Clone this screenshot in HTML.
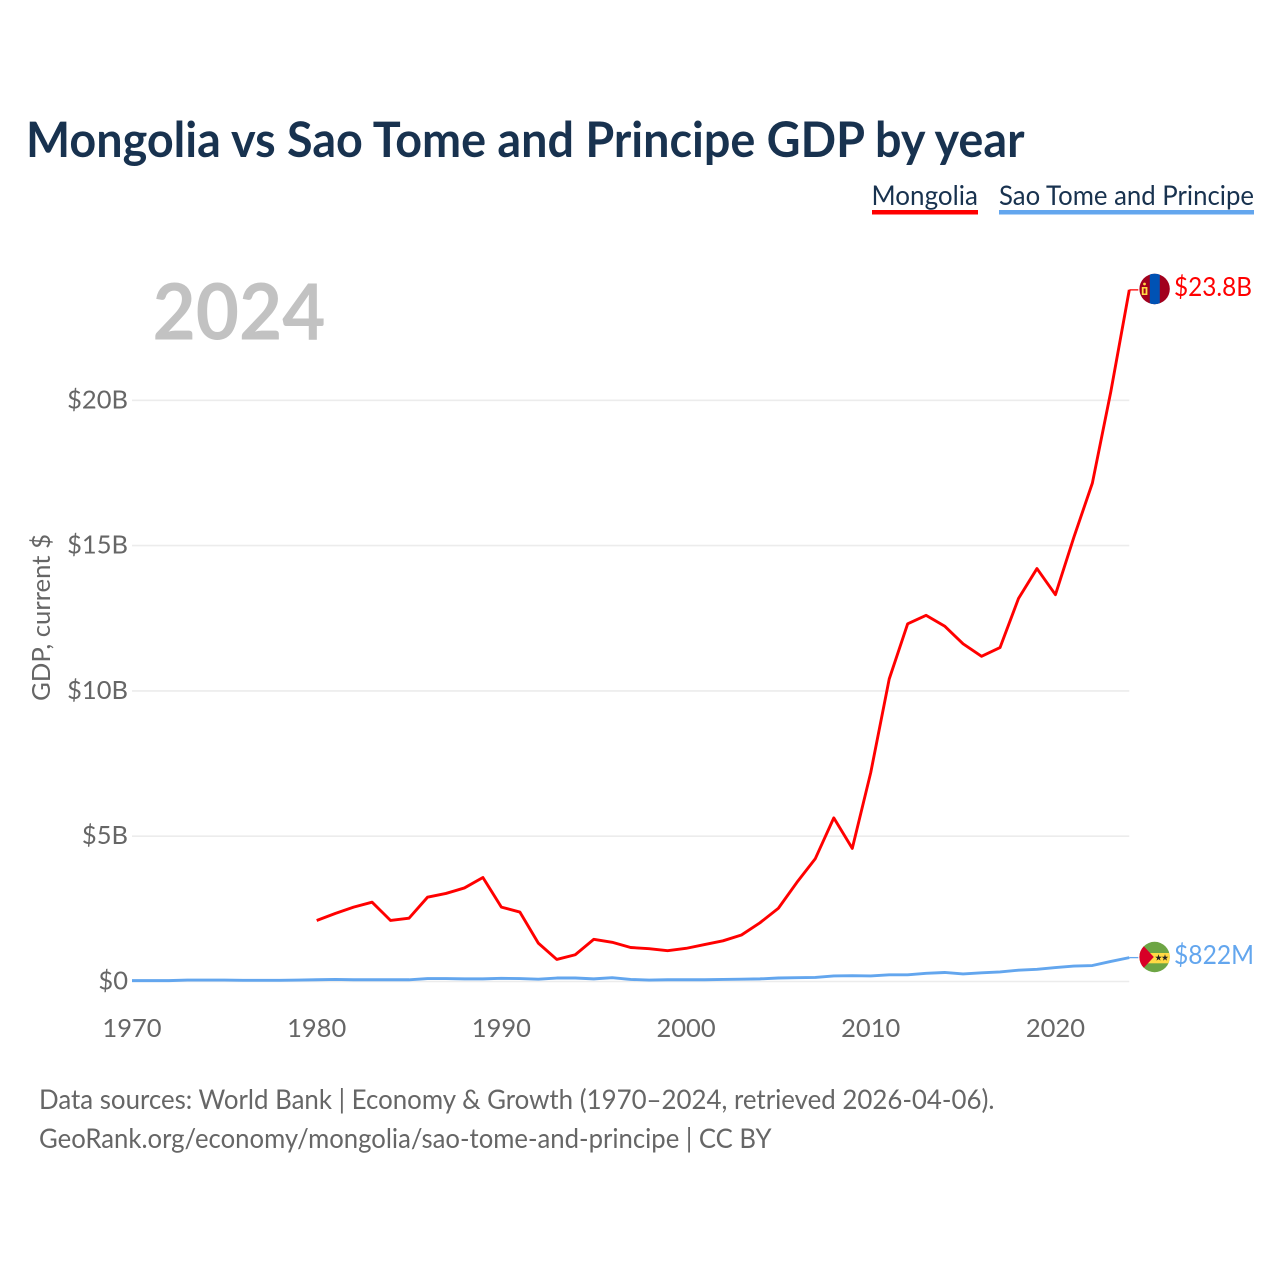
<!DOCTYPE html>
<html lang="en">
<head>
<meta charset="utf-8">
<title>Mongolia vs Sao Tome and Principe GDP by year</title>
<style>
html,body{margin:0;padding:0;background:#fff;width:1280px;height:1280px;overflow:hidden}
svg{display:block}
text{font-family:"Lato","Carlito","Liberation Sans",sans-serif}
</style>
</head>
<body>
<svg id="chart" xmlns="http://www.w3.org/2000/svg" width="1280" height="1280" viewBox="0 0 1280 1280">
  <defs>
    <clipPath id="clip-mn"><circle cx="1154.6" cy="289" r="15.2"/></clipPath>
    <clipPath id="clip-st"><circle cx="1154.6" cy="957" r="15.2"/></clipPath>
  </defs>
  <rect width="1280" height="1280" fill="#fff"/>
  <text x="26" y="157" font-size="48.5" font-weight="700" fill="#18324f" textLength="998.5" lengthAdjust="spacingAndGlyphs">Mongolia vs Sao Tome and Principe GDP by year</text>

  <g>
    <text x="871.5" y="205" font-size="27.5" fill="#18324f" textLength="106.5" lengthAdjust="spacingAndGlyphs">Mongolia</text>
    <rect x="872" y="210" width="106" height="4.5" fill="#ff0000"/>
  </g>
  <g>
    <text x="999" y="205" font-size="27.5" fill="#18324f" textLength="255" lengthAdjust="spacingAndGlyphs">Sao Tome and Principe</text>
    <rect x="999" y="210" width="255" height="4.5" fill="#63a6ee"/>
  </g>

  <text x="152.5" y="339.5" font-size="78" font-weight="700" fill="#c2c2c2" textLength="173" lengthAdjust="spacingAndGlyphs">2024</text>

  <g id="grid"></g>
  <g id="yticks"></g>
  <g id="xticks"></g>

  <text transform="translate(50,617.5) rotate(-90)" text-anchor="middle" font-size="25.5" fill="#666" textLength="167" lengthAdjust="spacingAndGlyphs">GDP, current $</text>

  <g id="series"></g>

  <g clip-path="url(#clip-mn)">
    <rect x="1139" y="273" width="32" height="32" fill="#a2001d"/>
    <rect x="1149.8" y="273" width="10" height="32" fill="#0052b4"/>
    <rect x="1141.8" y="287" width="5.6" height="8" fill="#ffda44"/>
    <rect x="1143.6" y="288.5" width="2" height="5" fill="#a2001d"/>
    <circle cx="1144.5" cy="284" r="1.4" fill="#ffda44"/>
  </g>
  <g clip-path="url(#clip-st)">
    <rect x="1139" y="941" width="32" height="32" fill="#6da544"/>
    <rect x="1139" y="953" width="32" height="10.3" fill="#ffda44"/>
    <polygon points="1139,941 1153.8,957 1139,973" fill="#d80027"/>
    <polygon points="1158.5,954.3 1159.3,956.7 1161.8,956.7 1159.8,958.2 1160.5,960.6 1158.5,959.1 1156.5,960.6 1157.2,958.2 1155.2,956.7 1157.7,956.7" fill="#222"/>
    <polygon points="1165,954.3 1165.8,956.7 1168.3,956.7 1166.3,958.2 1167,960.6 1165,959.1 1163,960.6 1163.7,958.2 1161.7,956.7 1164.2,956.7" fill="#222"/>
  </g>

  <text x="1174" y="296" font-size="26" fill="#ff0000" textLength="78" lengthAdjust="spacingAndGlyphs">$23.8B</text>
  <text x="1174" y="964" font-size="26" fill="#63a6ee" textLength="80" lengthAdjust="spacingAndGlyphs">$822M</text>

  <text x="39" y="1109" font-size="27.5" fill="#666" textLength="955.5" lengthAdjust="spacingAndGlyphs">Data sources: World Bank | Economy &amp; Growth (1970–2024, retrieved 2026-04-06).</text>
  <text x="39" y="1148" font-size="27.5" fill="#666" textLength="732.5" lengthAdjust="spacingAndGlyphs">GeoRank.org/economy/mongolia/sao-tome-and-principe | CC BY</text>
</svg>
<script>
const years = [1970,1971,1972,1973,1974,1975,1976,1977,1978,1979,1980,1981,1982,1983,1984,1985,1986,1987,1988,1989,1990,1991,1992,1993,1994,1995,1996,1997,1998,1999,2000,2001,2002,2003,2004,2005,2006,2007,2008,2009,2010,2011,2012,2013,2014,2015,2016,2017,2018,2019,2020,2021,2022,2023,2024];
const mongoliaGdp = [null,null,null,null,null,null,null,null,null,null,2.10,2.34,2.56,2.73,2.10,2.18,2.90,3.03,3.22,3.58,2.56,2.39,1.32,0.76,0.92,1.45,1.35,1.17,1.13,1.06,1.14,1.27,1.40,1.60,2.02,2.52,3.41,4.23,5.63,4.58,7.19,10.41,12.31,12.60,12.23,11.62,11.19,11.49,13.18,14.21,13.31,15.29,17.15,20.30,23.80];
const saoTomeGdp = [0.03,0.03,0.03,0.05,0.05,0.05,0.04,0.04,0.04,0.05,0.06,0.07,0.06,0.06,0.06,0.06,0.10,0.10,0.09,0.09,0.11,0.10,0.08,0.12,0.12,0.09,0.13,0.07,0.05,0.06,0.06,0.06,0.07,0.08,0.09,0.12,0.13,0.14,0.19,0.20,0.19,0.23,0.23,0.28,0.31,0.26,0.30,0.33,0.39,0.42,0.48,0.53,0.55,0.69,0.822];
const yTickValues = [0,5,10,15,20];
const yTickLabels = ["$0","$5B","$10B","$15B","$20B"];
const xTickValues = [1970,1980,1990,2000,2010,2020];
const xTickLabels = ["1970","1980","1990","2000","2010","2020"];

const NS = "http://www.w3.org/2000/svg";
const plot = {left:132, right:1129.3, zero:981.5, twenty:400.3};
const xScale = y => plot.left + (y - 1970) * (plot.right - plot.left) / 54;
const yScale = v => plot.zero - v * (plot.zero - plot.twenty) / 20;

const gridG = document.getElementById("grid");
const yTickG = document.getElementById("yticks");
const xTickG = document.getElementById("xticks");
const seriesG = document.getElementById("series");

yTickValues.forEach((v, i) => {
  const line = document.createElementNS(NS, "line");
  
  
  line.setAttribute("x1", plot.left);
  line.setAttribute("x2", plot.right);
  line.setAttribute("y1", yScale(v));
  line.setAttribute("y2", yScale(v));
  line.setAttribute("stroke", "#ececec");
  line.setAttribute("stroke-width", "1.6");
  gridG.appendChild(line);
  const t = document.createElementNS(NS, "text");
  
  
  t.setAttribute("x", 128);
  t.setAttribute("y", yScale(v) + 8);
  t.setAttribute("text-anchor", "end");
  t.setAttribute("font-size", "25.5");
  t.setAttribute("fill", "#666");
  t.textContent = yTickLabels[i];
  yTickG.appendChild(t);
});

xTickValues.forEach((v, i) => {
  const t = document.createElementNS(NS, "text");
  
  
  t.setAttribute("x", xScale(v));
  t.setAttribute("y", 1037);
  t.setAttribute("text-anchor", "middle");
  t.setAttribute("font-size", "25.5");
  t.setAttribute("fill", "#666");
  t.textContent = xTickLabels[i];
  xTickG.appendChild(t);
});

function linePath(values) {
  let d = "";
  values.forEach((v, i) => {
    if (v === null) return;
    d += (d ? "L" : "M") + xScale(years[i]).toFixed(2) + " " + yScale(v).toFixed(2);
  });
  return d;
}

const saoTomeLine = document.createElementNS(NS, "path");


saoTomeLine.setAttribute("d", linePath(saoTomeGdp));
saoTomeLine.setAttribute("fill", "none");
saoTomeLine.setAttribute("stroke", "#63a6ee");
saoTomeLine.setAttribute("stroke-width", "2.9");
saoTomeLine.setAttribute("stroke-linejoin", "round");
seriesG.appendChild(saoTomeLine);

const mongoliaLine = document.createElementNS(NS, "path");


mongoliaLine.setAttribute("d", linePath(mongoliaGdp));
mongoliaLine.setAttribute("fill", "none");
mongoliaLine.setAttribute("stroke", "#ff0000");
mongoliaLine.setAttribute("stroke-width", "2.9");
mongoliaLine.setAttribute("stroke-linejoin", "round");
seriesG.appendChild(mongoliaLine);

const mnEnd = mongoliaGdp[mongoliaGdp.length - 1];
const mnLeader = document.createElementNS(NS, "line");


mnLeader.setAttribute("x1", plot.right);
mnLeader.setAttribute("x2", plot.right + 9);
mnLeader.setAttribute("y1", yScale(mnEnd));
mnLeader.setAttribute("y2", yScale(mnEnd));
mnLeader.setAttribute("stroke", "#ff0000");
mnLeader.setAttribute("stroke-width", "1.3");
seriesG.appendChild(mnLeader);

const stEnd = saoTomeGdp[saoTomeGdp.length - 1];
const stLeader = document.createElementNS(NS, "line");


stLeader.setAttribute("x1", plot.right);
stLeader.setAttribute("x2", plot.right + 9);
stLeader.setAttribute("y1", yScale(stEnd));
stLeader.setAttribute("y2", yScale(stEnd));
stLeader.setAttribute("stroke", "#63a6ee");
stLeader.setAttribute("stroke-width", "1.3");
seriesG.appendChild(stLeader);
</script>
</body>
</html>
